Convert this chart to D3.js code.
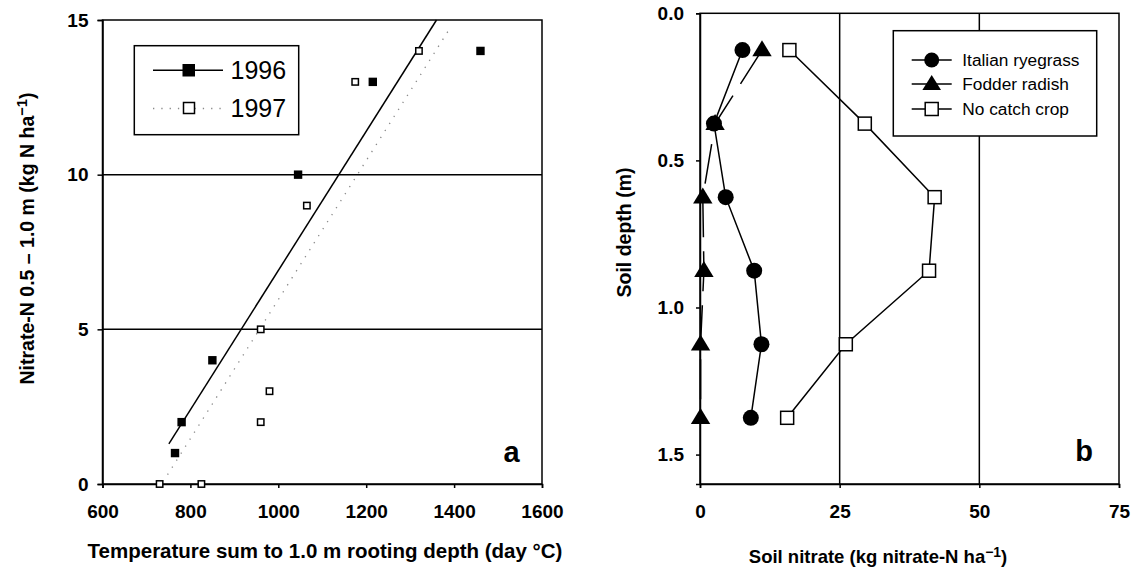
<!DOCTYPE html>
<html>
<head>
<meta charset="utf-8">
<script src="https://cdn.jsdelivr.net/npm/d3@7"></script>
<style>
  body { margin: 0; background: #fff; }
  svg { display: block; font-family: "Liberation Sans", Arial, sans-serif; }
</style>
</head>
<body>
<div id="chart"></div>
<script>
// ---- panel a data ----
var temp1996 = [765, 780, 850, 1045, 1215, 1460];
var nitrate1996 = [1, 2, 4, 10, 13, 14];
var temp1997 = [730, 825, 960, 980, 960, 1065, 1175, 1320];
var nitrate1997 = [0, 0, 2, 3, 5, 9, 13, 14];
// fitted lines, end points
var fit1996 = [[751, 1.3], [1360, 15]];
var fit1997 = [[748, 0.3], [1389, 14.7]];
var xTicksA = [600, 800, 1000, 1200, 1400, 1600];
var yTicksA = [0, 5, 10, 15];
var gridA = [5, 10];

// ---- panel b data ----
var depths = [0.125, 0.375, 0.625, 0.875, 1.125, 1.375];
var ryegrass = [7.6, 2.5, 4.6, 9.7, 11.0, 9.1];
var radish = [11.1, 2.7, 0.5, 0.7, 0.1, 0.1];
var noCatch = [16.0, 29.5, 42.0, 41.0, 26.1, 15.6];
var xTicksB = [0, 25, 50, 75];
var yTicksB = [0, 0.5, 1.0, 1.5];
var gridB = [25, 50];
var seriesNames = ["Italian ryegrass", "Fodder radish", "No catch crop"];

function main() {
    var svg = d3.select("#chart").append("svg")
        .attr("width", 1136)
        .attr("height", 579);

    // ================= panel a =================
    var x = d3.scaleLinear().domain([600, 1600]).range([102.5, 542]);
    var y = d3.scaleLinear().domain([0, 15]).range([484, 20]);

    var ga = svg.append("g");

    // grid lines
    ga.selectAll("line.grid")
        .data(gridA)
        .join("line")
        .attr("x1", x(600)).attr("x2", x(1600))
        .attr("y1", d => y(d)).attr("y2", d => y(d))
        .attr("stroke", "#000").attr("stroke-width", 1.5);

    // frame
    ga.append("rect")
        .attr("x", x(600)).attr("y", y(15))
        .attr("width", x(1600) - x(600)).attr("height", y(0) - y(15))
        .attr("fill", "none").attr("stroke", "#000").attr("stroke-width", 1.5);

    var axB = ga.append("g")
        .attr("transform", "translate(0," + y(0) + ")")
        .call(d3.axisBottom(x).tickValues(xTicksA).tickSize(4).tickPadding(17).tickFormat(d3.format("d")));
    var axL = ga.append("g")
        .attr("transform", "translate(" + x(600) + ",0)")
        .call(d3.axisLeft(y).tickValues(yTicksA).tickSize(5).tickPadding(9));
    [axB, axL].forEach(function (a) {
        a.select(".domain").attr("stroke-width", 1.5);
        a.selectAll(".tick line").attr("stroke-width", 1.5);
        a.selectAll("text").attr("font-size", 19).attr("font-weight", "bold")
            .attr("font-family", "'Liberation Sans', Arial, sans-serif");
    });

    // regression lines
    ga.append("line")
        .attr("x1", x(fit1997[0][0])).attr("y1", y(fit1997[0][1]))
        .attr("x2", x(fit1997[1][0])).attr("y2", y(fit1997[1][1]))
        .attr("stroke", "#8a8a8a").attr("stroke-width", 1.3)
        .attr("stroke-dasharray", "1.3,7");
    ga.append("line")
        .attr("x1", x(fit1996[0][0])).attr("y1", y(fit1996[0][1]))
        .attr("x2", x(fit1996[1][0])).attr("y2", y(fit1996[1][1]))
        .attr("stroke", "#000").attr("stroke-width", 1.5);

    // 1996 filled squares
    ga.selectAll("rect.p96")
        .data(temp1996)
        .join("rect")
        .attr("x", (d, i) => x(d) - 4.2)
        .attr("y", (d, i) => y(nitrate1996[i]) - 4.2)
        .attr("width", 8.4).attr("height", 8.4)
        .attr("fill", "#000");

    // 1997 open squares
    ga.selectAll("rect.p97")
        .data(temp1997)
        .join("rect")
        .attr("x", (d, i) => x(d) - 3.2)
        .attr("y", (d, i) => y(nitrate1997[i]) - 3.2)
        .attr("width", 6.4).attr("height", 6.4)
        .attr("fill", "#fff").attr("stroke", "#000").attr("stroke-width", 1.5);

    // legend a
    var lga = ga.append("g");
    lga.append("rect")
        .attr("x", 134.3).attr("y", 45.7).attr("width", 164.4).attr("height", 89)
        .attr("fill", "#fff").attr("stroke", "#000").attr("stroke-width", 1.5);
    lga.append("line").attr("x1", 153).attr("x2", 223).attr("y1", 70.3).attr("y2", 70.3)
        .attr("stroke", "#000").attr("stroke-width", 1.5);
    lga.append("rect").attr("x", 182.5).attr("y", 64).attr("width", 12.5).attr("height", 12.5).attr("fill", "#000");
    lga.append("text").attr("x", 230.5).attr("y", 78.5).attr("font-size", 25).text("1996");
    lga.append("line").attr("x1", 153).attr("x2", 223).attr("y1", 108.5).attr("y2", 108.5)
        .attr("stroke", "#8a8a8a").attr("stroke-width", 1.3).attr("stroke-dasharray", "1.3,7");
    lga.append("rect").attr("x", 183.5).attr("y", 102.5).attr("width", 11).attr("height", 11)
        .attr("fill", "#fff").attr("stroke", "#000").attr("stroke-width", 1.5);
    lga.append("text").attr("x", 230.5).attr("y", 117).attr("font-size", 25).text("1997");

    ga.append("text").attr("x", 511.5).attr("y", 461.5).attr("text-anchor", "middle")
        .attr("font-size", 29).attr("font-weight", "bold").text("a");

    // titles a
    var ty = ga.append("text")
        .attr("transform", "translate(34,238.5) rotate(-90)")
        .attr("text-anchor", "middle").attr("font-size", 19.5).attr("font-weight", "bold");
    ty.append("tspan").text("Nitrate-N 0.5 \u2013 1.0 m (kg N ha");
    ty.append("tspan").attr("dy", "-0.45em").attr("font-size", "0.75em").text("\u22121");
    ty.append("tspan").attr("dy", "0.34em").text(")");

    ga.append("text").attr("x", 325).attr("y", 558).attr("text-anchor", "middle")
        .attr("font-size", 20.5).attr("font-weight", "bold")
        .text("Temperature sum to 1.0 m rooting depth (day \u00b0C)");

    // ================= panel b =================
    var xb = d3.scaleLinear().domain([0, 75]).range([700, 1119]);
    var yb = d3.scaleLinear().domain([0, 1.6]).range([13.3, 484]);

    var gb = svg.append("g");

    gb.selectAll("line.grid")
        .data(gridB)
        .join("line")
        .attr("x1", d => xb(d)).attr("x2", d => xb(d))
        .attr("y1", yb(0)).attr("y2", yb(1.6))
        .attr("stroke", "#000").attr("stroke-width", 1.5);

    gb.append("rect")
        .attr("x", xb(0)).attr("y", yb(0))
        .attr("width", xb(75) - xb(0)).attr("height", yb(1.6) - yb(0))
        .attr("fill", "none").attr("stroke", "#000").attr("stroke-width", 1.5);

    var bB = gb.append("g")
        .attr("transform", "translate(0," + yb(1.6) + ")")
        .call(d3.axisBottom(xb).tickValues(xTicksB).tickSize(4).tickPadding(17));
    var bL = gb.append("g")
        .attr("transform", "translate(" + xb(0) + ",0)")
        .call(d3.axisLeft(yb).tickValues(yTicksB).tickSize(4).tickPadding(12).tickFormat(d3.format(".1f")));
    [bB, bL].forEach(function (a) {
        a.select(".domain").attr("stroke-width", 1.5);
        a.selectAll(".tick line").attr("stroke-width", 1.5);
        a.selectAll("text").attr("font-size", 19).attr("font-weight", "bold")
            .attr("font-family", "'Liberation Sans', Arial, sans-serif");
    });

    var lineFn = function (vals) {
        return d3.line()
            .x((d, i) => xb(vals[i]))
            .y(d => yb(d))(depths);
    };

    // fodder radish (dashed)
    gb.append("path").attr("d", lineFn(radish))
        .attr("fill", "none").attr("stroke", "#000").attr("stroke-width", 1.5)
        .attr("stroke-dasharray", "40,14");
    gb.selectAll("path.tri")
        .data(depths)
        .join("path")
        .attr("d", (d, i) => {
            var cx = xb(radish[i]), cy = yb(d);
            return "M" + cx + "," + (cy - 9.7) + "L" + (cx + 9.7) + "," + (cy + 6.3) + "L" + (cx - 9.7) + "," + (cy + 6.3) + "Z";
        })
        .attr("fill", "#000");

    // italian ryegrass
    gb.append("path").attr("d", lineFn(ryegrass))
        .attr("fill", "none").attr("stroke", "#000").attr("stroke-width", 1.5);
    gb.selectAll("circle.rg")
        .data(depths)
        .join("circle")
        .attr("cx", (d, i) => xb(ryegrass[i]))
        .attr("cy", d => yb(d))
        .attr("r", 8)
        .attr("fill", "#000");

    // no catch crop
    gb.append("path").attr("d", lineFn(noCatch))
        .attr("fill", "none").attr("stroke", "#000").attr("stroke-width", 1.5);
    gb.selectAll("rect.nc")
        .data(depths)
        .join("rect")
        .attr("x", (d, i) => xb(noCatch[i]) - 6.5)
        .attr("y", d => yb(d) - 6.5)
        .attr("width", 13).attr("height", 13)
        .attr("fill", "#fff").attr("stroke", "#000").attr("stroke-width", 1.5);

    // legend b
    var lgb = gb.append("g");
    lgb.append("rect")
        .attr("x", 893.3).attr("y", 30.7).attr("width", 203.4).attr("height", 105.3)
        .attr("fill", "#fff").attr("stroke", "#000").attr("stroke-width", 1.5);
    var rowsY = [60, 84, 109];
    lgb.selectAll("line.leg")
        .data(seriesNames)
        .join("line")
        .attr("x1", 911.7).attr("x2", 951.7)
        .attr("y1", (d, i) => rowsY[i]).attr("y2", (d, i) => rowsY[i])
        .attr("stroke", "#000").attr("stroke-width", 1.5);
    lgb.append("circle").attr("cx", 931.7).attr("cy", rowsY[0]).attr("r", 7.5).attr("fill", "#000");
    lgb.append("path")
        .attr("d", "M931.7," + (rowsY[1] - 9) + "L941," + (rowsY[1] + 6) + "L922.4," + (rowsY[1] + 6) + "Z")
        .attr("fill", "#000");
    lgb.append("rect").attr("x", 925.2).attr("y", rowsY[2] - 6.5).attr("width", 13).attr("height", 13)
        .attr("fill", "#fff").attr("stroke", "#000").attr("stroke-width", 1.5);
    lgb.selectAll("text")
        .data(seriesNames)
        .join("text")
        .attr("x", 962.3)
        .attr("y", (d, i) => rowsY[i] + 6)
        .attr("font-size", 17.3)
        .text(d => d);

    gb.append("text").attr("x", 1084).attr("y", 461).attr("text-anchor", "middle")
        .attr("font-size", 29).attr("font-weight", "bold").text("b");

    gb.append("text")
        .attr("transform", "translate(631,232.5) rotate(-90)")
        .attr("text-anchor", "middle").attr("font-size", 19.5).attr("font-weight", "bold")
        .text("Soil depth (m)");

    var tx = gb.append("text").attr("x", 878).attr("y", 563).attr("text-anchor", "middle")
        .attr("font-size", 18.5).attr("font-weight", "bold");
    tx.append("tspan").text("Soil nitrate (kg nitrate-N ha");
    tx.append("tspan").attr("dy", "-0.45em").attr("font-size", "0.75em").text("\u22121");
    tx.append("tspan").attr("dy", "0.34em").text(")");
}

main();
</script>
</body>
</html>
